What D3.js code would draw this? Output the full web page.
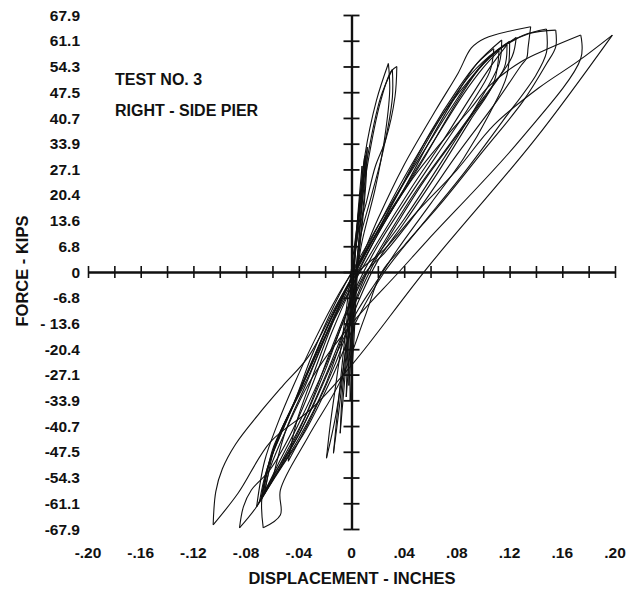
<!DOCTYPE html>
<html>
<head>
<meta charset="utf-8">
<script src="https://cdn.jsdelivr.net/npm/d3@7"></script>
<style>
  html, body { margin: 0; padding: 0; background: #fff; }
  svg { display: block; }
  text { font-family: "Liberation Sans", Arial, sans-serif; font-weight: bold; fill: #111; }
</style>
</head>
<body>
<svg id="chart" width="629" height="590"></svg>
<script>
// ---------- axis tick data ----------
const yTickValues = [67.9, 61.1, 54.3, 47.5, 40.7, 33.9, 27.1, 20.4, 13.6, 6.8, 0,
                     -6.8, -13.6, -20.4, -27.1, -33.9, -40.7, -47.5, -54.3, -61.1, -67.9];
const yTickLabels = ["67.9", "61.1", "54.3", "47.5", "40.7", "33.9", "27.1", "20.4", "13.6", "6.8", "0",
                     "-6.8", "- 13.6", "-20.4", "-27.1", "-33.9", "-40.7", "-47.5", "-54.3", "-61.1", "-67.9"];
const xTickValues = [-0.20, -0.18, -0.16, -0.14, -0.12, -0.10, -0.08, -0.06, -0.04, -0.02, 0,
                     0.02, 0.04, 0.06, 0.08, 0.10, 0.12, 0.14, 0.16, 0.18, 0.20];
const xLabelValues = [-0.20, -0.16, -0.12, -0.08, -0.04, 0, 0.04, 0.08, 0.12, 0.16, 0.20];
const xLabelTexts = ["-.20", "-.16", "-.12", "-.08", "-.04", "0", ".04", ".08", ".12", ".16", ".20"];

// ---------- hysteresis branches [displacement (in), force (kips)] ----------
// large cycles: "up" = from negative peak to positive peak, "down" = back
const loopL1Up = [[-0.105,-66.8],[-0.103,-58],[-0.098,-52],[-0.088,-45.5],[-0.071,-37.8],[-0.052,-30],[-0.033,-22.5],[-0.008,-6.6],[0.005,0],[0.025,6],[0.05,16],[0.08,27],[0.108,38.8],[0.142,48.6],[0.172,55.7],[0.198,62.6]];
const loopL1Down = [[0.198,62.6],[0.139,34.9],[0.058,1.3],[0.0015,-24],[-0.03,-36],[-0.0615,-44.9],[-0.086,-58.4],[-0.105,-66.8]];
const loopL2Up = [[-0.085,-67.6],[-0.082,-62],[-0.076,-57.6],[-0.062,-52.3],[-0.045,-42],[-0.03,-30],[-0.015,-16],[0.0,-4],[0.02,10],[0.045,24],[0.07,35],[0.09,43],[0.104,49],[0.129,55.6],[0.150,59.1],[0.174,62.6]];
const loopL2Down = [[0.174,62.6],[0.174,56.4],[0.128,34.9],[0.058,8.5],[0.036,0],[0.0,-13.7],[-0.03,-28],[-0.05,-42],[-0.062,-52],[-0.068,-59.7],[-0.085,-67.6]];
const loopL3Up = [[-0.067,-67.6],[-0.068,-59.7],[-0.058,-46],[-0.043,-34],[-0.03,-22],[-0.012,-8],[0.005,3],[0.03,18],[0.055,32],[0.075,43],[0.095,53],[0.115,59.5],[0.135,63],[0.155,63.9]];
const loopL3Down = [[0.155,63.9],[0.155,59.5],[0.148,55],[0.13,45],[0.10,32],[0.07,19],[0.04,7],[0.023,0],[0.01,-12],[-0.008,-28.5],[-0.033,-43.6],[-0.054,-57.6],[-0.054,-64.2],[-0.067,-67.6]];
const loopL4Up = [[-0.068,-59.7],[-0.062,-50],[-0.05,-40],[-0.035,-28],[-0.018,-14],[0.0,-2],[0.025,14],[0.05,30],[0.07,42],[0.09,52],[0.11,58.5],[0.13,62.5],[0.148,64.2]];
const loopL4Down = [[0.148,64.2],[0.148,58],[0.14,52],[0.115,40],[0.085,26],[0.05,11],[0.025,0],[0.005,-12],[-0.015,-28],[-0.035,-42],[-0.052,-51],[-0.068,-59.7]];
const loopL5Up = [[-0.069,-60.5],[-0.064,-52],[-0.055,-43],[-0.04,-32],[-0.025,-20],[-0.01,-8],[0.005,1.8],[0.02,14],[0.039,27.7],[0.064,42.8],[0.081,52.6],[0.091,59.2],[0.101,61.7],[0.136,64.8]];
const loopL5Down = [[0.136,64.8],[0.134,59.2],[0.133,56.5],[0.129,54.7],[0.11,45],[0.08,31],[0.05,16],[0.025,5],[0.011,0],[-0.005,-12],[-0.02,-26],[-0.04,-42],[-0.055,-52],[-0.069,-60.5]];
const loopL6Up = [[-0.067,-59],[-0.06,-47],[-0.048,-38],[-0.032,-27],[-0.015,-13],[0.0,-2],[0.02,12],[0.045,28],[0.07,42],[0.09,51],[0.105,57],[0.120,61]];
const loopL6Down = [[0.120,61],[0.118,52],[0.105,42],[0.085,30],[0.06,18],[0.035,6],[0.02,-2],[0.005,-10],[-0.012,-22],[-0.03,-36],[-0.048,-48],[-0.067,-59]];
const loopL7Up = [[-0.07,-61],[-0.065,-53],[-0.055,-44],[-0.04,-32],[-0.02,-17],[0.0,-3],[0.02,10],[0.04,22],[0.06,35],[0.08,47],[0.095,55],[0.114,61.3]];
const loopL7Down = [[0.114,61.3],[0.112,55],[0.095,44],[0.07,30],[0.04,14],[0.015,2],[0.0,-8],[-0.02,-25],[-0.04,-40],[-0.056,-51],[-0.07,-61]];
const loopL8Up = [[-0.066,-58.5],[-0.058,-46],[-0.043,-34],[-0.028,-22],[-0.012,-10],[0.003,0],[0.02,11],[0.04,24],[0.06,37],[0.08,48],[0.095,55],[0.108,59]];
const loopL8Down = [[0.108,59],[0.105,53],[0.09,44],[0.065,31],[0.04,18],[0.02,7],[0.005,-3],[-0.015,-20],[-0.035,-38],[-0.05,-48],[-0.066,-58.5]];
const loopL9Up = [[-0.060,-55],[-0.05,-42],[-0.035,-30],[-0.018,-16],[0.0,-4],[0.02,8],[0.045,22],[0.07,35],[0.09,46],[0.105,54],[0.118,60]];
const loopL9Down = [[0.118,60],[0.116,54],[0.10,46],[0.075,34],[0.05,22],[0.03,11],[0.012,0],[-0.002,-12],[-0.02,-30],[-0.04,-44],[-0.060,-55]];
const loopL10Up = [[-0.048,-50],[-0.042,-40],[-0.03,-28],[-0.016,-15],[-0.002,-3],[0.015,8],[0.04,22],[0.065,36],[0.085,47],[0.1,54],[0.112,58.5]];
const loopL10Down = [[0.112,58.5],[0.108,50],[0.09,40],[0.065,26],[0.04,13],[0.02,3],[0.005,-8],[-0.012,-24],[-0.03,-38],[-0.048,-50]];
const loopL11Up = [[-0.072,-62],[-0.066,-50],[-0.056,-40],[-0.044,-30],[-0.028,-18],[-0.01,-6],[0.008,4],[0.03,16],[0.055,30],[0.08,45],[0.1,55],[0.125,62]];
const loopL11Down = [[0.125,62],[0.122,57],[0.105,48],[0.08,36],[0.055,24],[0.035,13],[0.018,3],[0.003,-8],[-0.018,-26],[-0.04,-43],[-0.058,-53],[-0.072,-62]];
// medium (narrow) cycles
const loopM1Up = [[-0.019,-49.2],[-0.016,-40],[-0.01,-25],[-0.004,-10],[0.0015,5],[0.005,14.6],[0.010,30.5],[0.019,45.4],[0.028,55.1]];
const loopM1Down = [[0.028,55.1],[0.029,48],[0.025,35],[0.018,22],[0.008,8],[0.002,-5],[-0.004,-20],[-0.012,-38],[-0.019,-49.2]];
const loopM2Up = [[-0.0137,-47.9],[-0.011,-38],[-0.007,-24],[-0.002,-8],[0.004,8],[0.012,28],[0.022,45],[0.03,53],[0.0344,54.3]];
const loopM2Down = [[0.0344,54.3],[0.033,46.3],[0.026,35],[0.018,27.8],[0.011,18],[0.005,10.3],[0.0,-3],[-0.004,-18],[-0.009,-35],[-0.0137,-47.9]];
const loopM3Up = [[-0.0086,-42.6],[-0.007,-32],[-0.003,-18],[0.0,-5],[0.004,10],[0.012,30],[0.022,46],[0.031,53.5]];
const loopM3Down = [[0.031,53.5],[0.031,46],[0.024,32],[0.015,20],[0.006,8],[0.002,-5],[-0.003,-20],[-0.006,-32],[-0.0086,-42.6]];
// small cycles
const loopS1Up = [[-0.002,-30],[-0.002,-20],[0.0,-8],[0.002,4],[0.005,15],[0.010,30.5]];
const loopS1Down = [[0.010,30.5],[0.009,22],[0.006,10],[0.003,-2],[0.001,-15],[-0.002,-30]];
const loopS2Up = [[-0.004,-33],[-0.003,-22],[-0.001,-10],[0.002,3],[0.006,17],[0.012,33]];
const loopS2Down = [[0.012,33],[0.011,24],[0.008,12],[0.004,0],[0.0,-15],[-0.004,-33]];
const loopS3Up = [[0.0,-25],[0.0,-15],[0.001,-5],[0.003,6],[0.005,16],[0.008,28]];
const loopS3Down = [[0.008,28],[0.008,20],[0.006,10],[0.004,0],[0.002,-12],[0.0,-25]];
const loopS4Up = [[-0.001,-34],[-0.001,-22],[0.001,-9],[0.003,5],[0.007,18],[0.011,31]];
const loopS4Down = [[0.011,31],[0.010,22],[0.007,10],[0.004,-3],[0.002,-17],[-0.001,-34]];

const branches = [
  loopS1Up, loopS1Down, loopS2Up, loopS2Down, loopS3Up, loopS3Down, loopS4Up, loopS4Down,
  loopM1Up, loopM1Down, loopM2Up, loopM2Down, loopM3Up, loopM3Down,
  loopL10Up, loopL10Down, loopL9Up, loopL9Down, loopL11Up, loopL11Down,
  loopL8Up, loopL8Down, loopL7Up, loopL7Down, loopL6Up, loopL6Down,
  loopL5Up, loopL5Down, loopL4Up, loopL4Down, loopL3Up, loopL3Down,
  loopL2Up, loopL2Down, loopL1Up, loopL1Down
];

// ---------- drawing ----------
const svg = d3.select("#chart");
const x = d3.scaleLinear().domain([-0.2, 0.2]).range([88, 615]);
const y = d3.scaleLinear().domain([-67.9, 67.9]).range([529, 15]);

const line = d3.line()
  .x(d => x(d[0]))
  .y(d => y(d[1]))
  .curve(d3.curveCatmullRom.alpha(0.5));

svg.append("g")
  .selectAll("path")
  .data(branches)
  .join("path")
  .attr("d", line)
  .attr("fill", "none")
  .attr("stroke", "#111")
  .attr("stroke-width", 1.1)
  .attr("stroke-linejoin", "round");

// X axis (crossing ticks) at force = 0
const gx1 = svg.append("g").attr("transform", `translate(0,${y(0)})`)
  .call(d3.axisBottom(x).tickValues(xTickValues).tickSize(6).tickFormat("").tickSizeOuter(0));
const gx2 = svg.append("g").attr("transform", `translate(0,${y(0)})`)
  .call(d3.axisTop(x).tickValues(xTickValues).tickSize(6).tickFormat("").tickSizeOuter(0));
// Y axis (crossing ticks) at displacement = 0
const gy1 = svg.append("g").attr("transform", `translate(${x(0)},0)`)
  .call(d3.axisLeft(y).tickValues(yTickValues).tickSize(8).tickFormat("").tickSizeOuter(0));
const gy2 = svg.append("g").attr("transform", `translate(${x(0)},0)`)
  .call(d3.axisRight(y).tickValues(yTickValues).tickSize(8).tickFormat("").tickSizeOuter(0));

[gx1, gx2].forEach(g => {
  g.select(".domain").attr("stroke", "#111").attr("stroke-width", 2.2);
  g.selectAll(".tick line").attr("stroke", "#111").attr("stroke-width", 1.6);
});
[gy1, gy2].forEach(g => {
  g.select(".domain").attr("stroke", "#111").attr("stroke-width", 2.2);
  g.selectAll(".tick line").attr("stroke", "#111").attr("stroke-width", 1.8);
});

// Y tick labels (left column)
svg.append("g")
  .selectAll("text")
  .data(yTickValues)
  .join("text")
  .attr("x", 80)
  .attr("y", d => y(d))
  .attr("dy", "0.36em")
  .attr("text-anchor", "end")
  .style("font-size", "15.5px")
  .text((d, i) => yTickLabels[i]);

// X tick labels (below plot)
svg.append("g")
  .selectAll("text")
  .data(xLabelValues)
  .join("text")
  .attr("x", d => x(d))
  .attr("y", 552)
  .attr("dy", "0.36em")
  .attr("text-anchor", "middle")
  .style("font-size", "15.5px")
  .text((d, i) => xLabelTexts[i]);

// axis titles
svg.append("text")
  .attr("x", 352).attr("y", 578).attr("dy", "0.36em")
  .attr("text-anchor", "middle")
  .style("font-size", "16.5px")
  .text("DISPLACEMENT - INCHES");

svg.append("text")
  .attr("transform", "translate(22,271) rotate(-90)")
  .attr("dy", "0.36em")
  .attr("text-anchor", "middle")
  .style("font-size", "16.5px")
  .text("FORCE - KIPS");

// annotation
svg.append("text")
  .attr("x", 115).attr("y", 79).attr("dy", "0.36em")
  .style("font-size", "16px")
  .text("TEST NO. 3");
svg.append("text")
  .attr("x", 115).attr("y", 110).attr("dy", "0.36em")
  .style("font-size", "16px")
  .text("RIGHT - SIDE PIER");
</script>
</body>
</html>
